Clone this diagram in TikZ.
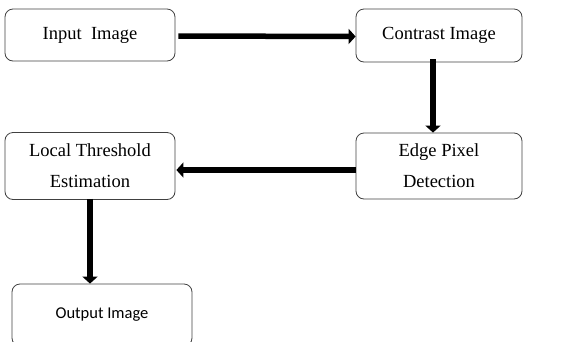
\documentclass[tikz,border=0pt]{standalone}
\usepackage{fontspec}
\setmainfont{Liberation Serif}
\newfontfamily\calfont{Carlito}
\usetikzlibrary{arrows.meta}

\begin{document}
\begin{tikzpicture}[
  x=1pt, y=-1pt,
  stage/.style={
    draw=black!75, rounded corners=8pt, line width=0.8pt,
    align=center, font=\fontsize{18.5}{31}\selectfont,
    inner sep=0pt
  },
  flow/.style={
    line width=5.5pt, -{Triangle[length=7pt,width=15pt]}
  }
]
  \useasboundingbox (0,0) rectangle (566,341);
  \node[stage, minimum width=170pt, minimum height=52pt] (inp) at (90,35){Input\ \ Image};
  \node[stage, minimum width=166pt, minimum height=53pt] (con) at (439,35.5){Contrast\ Image};
  \node[stage, minimum width=166pt, minimum height=66pt] (edg) at (439,166){Edge Pixel\\Detection};
  \node[stage, minimum width=170pt, minimum height=67pt] (loc) at (90,166){Local Threshold\\Estimation};
  \node[stage, minimum width=180pt, minimum height=62pt,
        font=\calfont\fontsize{16.5}{18}\selectfont] (out) at (102,315){Output Image};
  \draw[flow] ([xshift=3pt,yshift=-1pt]inp.east) -- ([yshift=-1pt]con.west);
  \draw[flow] ([xshift=-6pt,yshift=3pt]con.south) -- ([xshift=-6pt]edg.north);
  \draw[flow] ([yshift=-4pt]edg.west) -- ([xshift=1pt,yshift=-4pt]loc.east);
  \draw[flow] ([yshift=1pt]loc.south) -- (loc.south |- out.north);
\end{tikzpicture}
\end{document}
